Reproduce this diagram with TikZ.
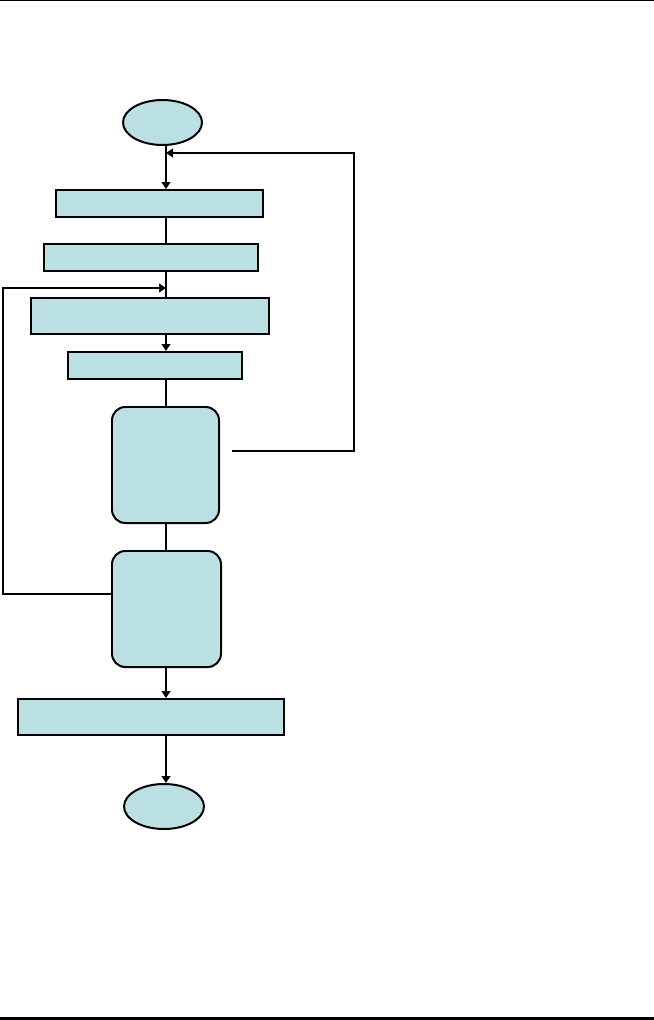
\documentclass[tikz,border=0pt]{standalone}
\usetikzlibrary{arrows.meta,shapes.geometric}
\definecolor{boxfill}{RGB}{187,224,227}

\begin{document}
\begin{tikzpicture}[
    x=0.03cm, y=-0.03cm,
    >={Triangle[length=2.1mm,width=2.6mm]},
    box/.style={
        draw,
        fill=boxfill,
        line width=1.7pt,
        inner sep=0pt
    },
    rbox/.style={box, rounded corners=4mm},
    term/.style={box, ellipse},
    arr/.style={->, line width=1.5pt},
    lin/.style={line width=1.5pt}
]
    \useasboundingbox (0,0) rectangle (654,1020);
    \draw[line width=0.9pt] (0,0.5) -- (654,0.5);
    \draw[line width=2.1pt] (0,1018.5) -- (654,1018.5);

    \coordinate (spine) at (166,0);

    \node[term, minimum width=2.37cm, minimum height=1.35cm] (start) at (162.5,122.5) {};
    \node[box, minimum width=6.21cm, minimum height=0.81cm] (init) at (159.5,203.5) {};
    \node[box, minimum width=6.42cm, minimum height=0.81cm] (prep) at (151,257.5) {};
    \node[box, minimum width=7.14cm, minimum height=1.08cm] (step) at (150,316) {};
    \node[box, minimum width=5.22cm, minimum height=0.81cm] (calc) at (155,365.5) {};
    \node[rbox, minimum width=3.21cm, minimum height=3.48cm] (testa) at (165.5,465) {};
    \node[rbox, minimum width=3.27cm, minimum height=3.48cm] (testb) at (166.5,609) {};
    \node[box, minimum width=7.98cm, minimum height=1.08cm] (output) at (151,717) {};
    \node[term, minimum width=2.4cm, minimum height=1.35cm] (stop) at (164,806.5) {};

    \coordinate (rjoin) at (166,153);
    \coordinate (ljoin) at (166,288);
    \coordinate (rfb) at (232,451);
    \coordinate (lfb) at (112,594);

    \draw[arr] (spine |- start.south) -- (spine |- init.north);
    \draw[lin] (spine |- init.south) -- (spine |- prep.north);
    \draw[lin] (spine |- prep.south) -- (spine |- step.north);
    \draw[arr] (spine |- step.south) -- (spine |- calc.north);
    \draw[lin] (spine |- calc.south) -- (spine |- testa.north);
    \draw[lin] (spine |- testa.south) -- (spine |- testb.north);
    \draw[arr] (spine |- testb.south) -- (spine |- output.north);
    \draw[arr] (spine |- output.south) -- (spine |- stop.north);

    \draw[arr] (rfb) -- ++(122,0) |- (rjoin);
    \draw[arr] (lfb) -- ++(-109,0) |- (ljoin);
\end{tikzpicture}
\end{document}
